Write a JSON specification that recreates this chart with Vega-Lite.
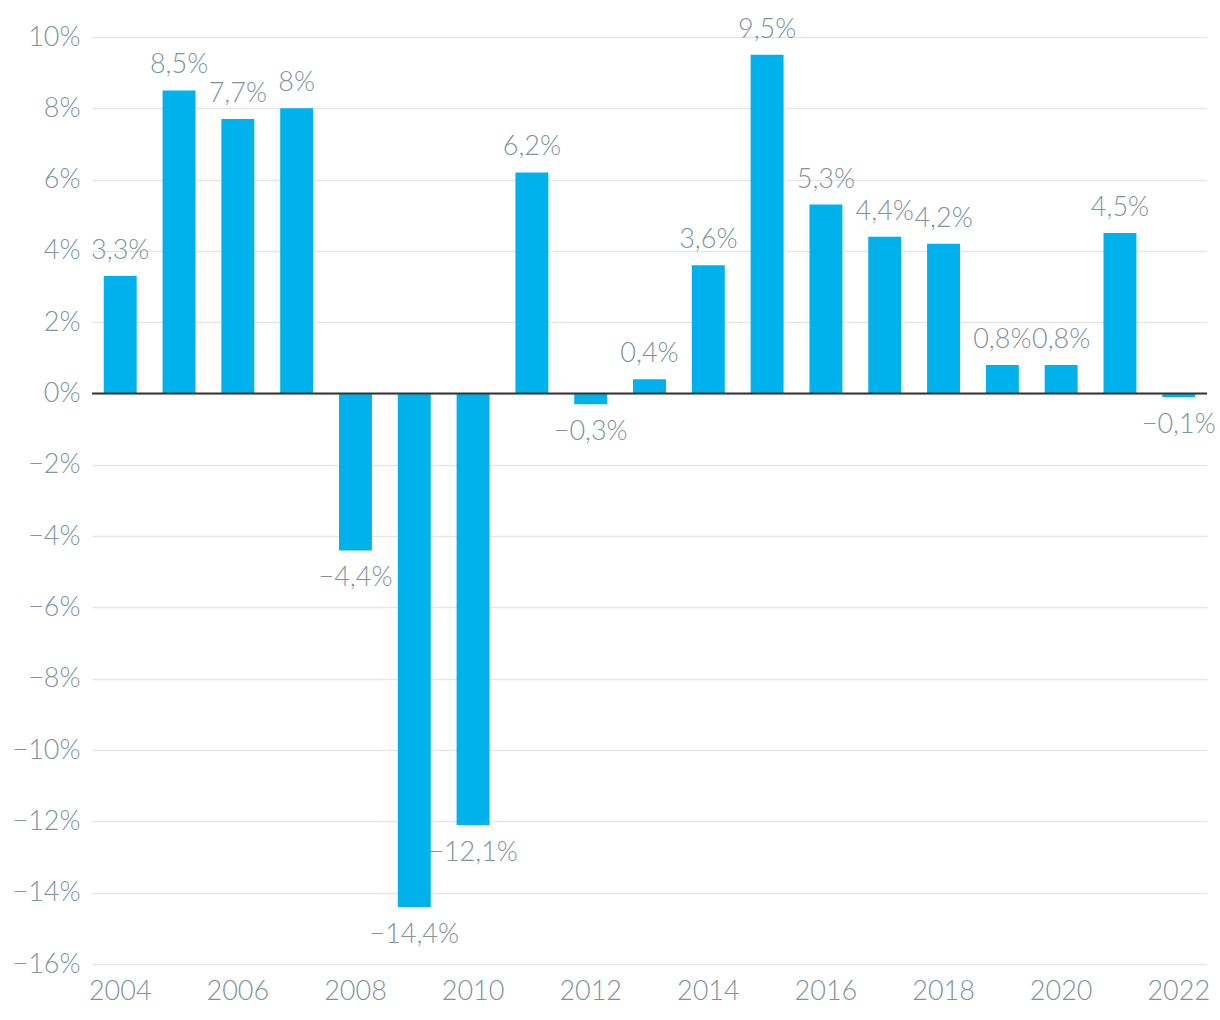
{
  "$schema": "https://vega.github.io/schema/vega-lite/v6.json",
  "width": 1115,
  "height": 927,
  "autosize": {"type": "none"},
  "padding": {"left": 92, "top": 37, "right": 13, "bottom": 56},
  "background": "white",
  "config": {
    "view": {"stroke": null},
    "font": "Lato",
    "locale": {"number": {"decimal": ",", "thousands": ".", "grouping": [3], "currency": ["", " €"]}}
  },
  "data": {
    "values": [
      {"year": 2004, "value": 0.033},
      {"year": 2005, "value": 0.085},
      {"year": 2006, "value": 0.077},
      {"year": 2007, "value": 0.08},
      {"year": 2008, "value": -0.044},
      {"year": 2009, "value": -0.144},
      {"year": 2010, "value": -0.121},
      {"year": 2011, "value": 0.062},
      {"year": 2012, "value": -0.003},
      {"year": 2013, "value": 0.004},
      {"year": 2014, "value": 0.036},
      {"year": 2015, "value": 0.095},
      {"year": 2016, "value": 0.053},
      {"year": 2017, "value": 0.044},
      {"year": 2018, "value": 0.042},
      {"year": 2019, "value": 0.008},
      {"year": 2020, "value": 0.008},
      {"year": 2021, "value": 0.045},
      {"year": 2022, "value": -0.001}
    ]
  },
  "encoding": {
    "x": {
      "field": "year",
      "type": "ordinal",
      "scale": {"paddingInner": 0.44, "paddingOuter": 0.2},
      "axis": {
        "title": null,
        "values": [2004, 2006, 2008, 2010, 2012, 2014, 2016, 2018, 2020, 2022],
        "labelAngle": 0,
        "ticks": false,
        "domain": false,
        "labelPadding": 14,
        "labelFont": "Lato",
        "labelFontWeight": 300,
        "labelFontSize": 27,
        "labelColor": "#7f949c"
      }
    },
    "y": {
      "field": "value",
      "type": "quantitative",
      "scale": {"domain": [-0.16, 0.10], "nice": false},
      "axis": {
        "title": null,
        "values": [-0.16, -0.14, -0.12, -0.10, -0.08, -0.06, -0.04, -0.02, 0, 0.02, 0.04, 0.06, 0.08, 0.10],
        "format": ".0%",
        "ticks": false,
        "domain": false,
        "labelPadding": 12,
        "labelFont": "Lato",
        "labelFontWeight": 300,
        "labelFontSize": 27,
        "labelColor": "#7f949c",
        "gridColor": "#e6e6e6",
        "gridWidth": 1.5
      }
    }
  },
  "layer": [
    {"mark": {"type": "bar", "color": "#00b2eb"}},
    {
      "transform": [{"filter": "datum.value >= 0"}],
      "mark": {"type": "text", "baseline": "bottom", "dy": -11, "font": "Lato", "fontWeight": 300, "fontSize": 27, "color": "#7f949c"},
      "encoding": {"text": {"field": "value", "format": ".1~%"}}
    },
    {
      "transform": [{"filter": "datum.value < 0"}],
      "mark": {"type": "text", "baseline": "top", "dy": 15, "font": "Lato", "fontWeight": 300, "fontSize": 27, "color": "#7f949c"},
      "encoding": {"text": {"field": "value", "format": ".1~%"}}
    },
    {
      "data": {"values": [{"zero": 0}]},
      "mark": {"type": "rule", "color": "#333333", "strokeWidth": 2},
      "encoding": {"y": {"field": "zero", "type": "quantitative"}, "x": null}
    }
  ]
}
